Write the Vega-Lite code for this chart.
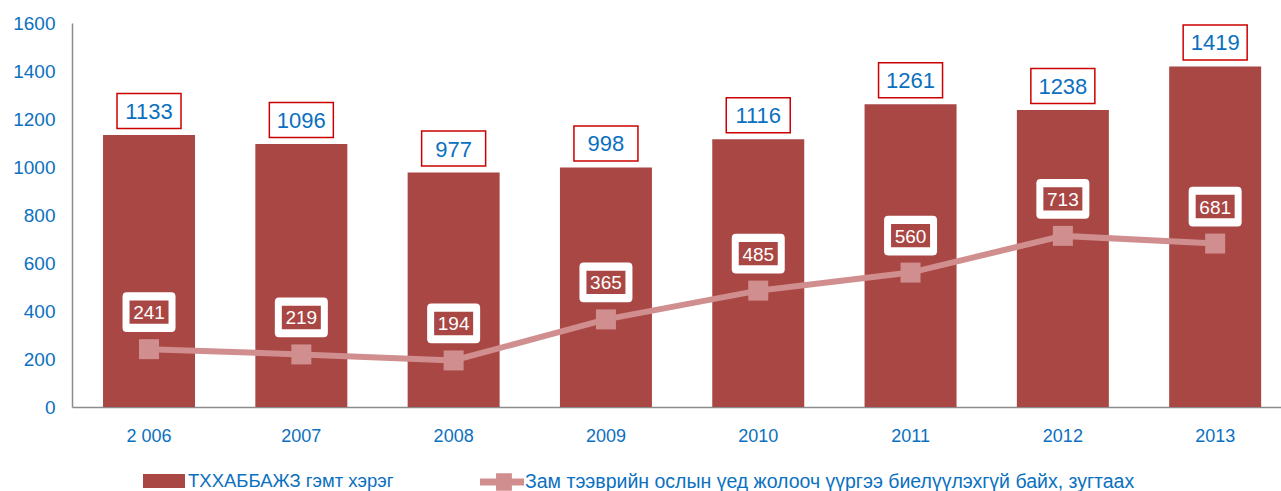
{
  "$schema": "https://vega.github.io/schema/vega-lite/v6.json",
  "width": 1209,
  "height": 384,
  "autosize": {"type": "none"},
  "padding": {"left": 72, "top": 23, "right": 0, "bottom": 84},
  "background": "white",
  "config": {"view": {"stroke": null}, "font": "Liberation Sans"},
  "data": {
    "values": [
      {"year": "2 006", "crimes": 1133, "drivers": 241},
      {"year": "2007", "crimes": 1096, "drivers": 219},
      {"year": "2008", "crimes": 977, "drivers": 194},
      {"year": "2009", "crimes": 998, "drivers": 365},
      {"year": "2010", "crimes": 1116, "drivers": 485},
      {"year": "2011", "crimes": 1261, "drivers": 560},
      {"year": "2012", "crimes": 1238, "drivers": 713},
      {"year": "2013", "crimes": 1419, "drivers": 681}
    ]
  },
  "encoding": {
    "x": {
      "field": "year",
      "type": "ordinal",
      "sort": null,
      "title": null,
      "scale": {"paddingInner": 0.396, "paddingOuter": 0.167, "align": 0.61},
      "axis": {
        "labelAngle": 0,
        "labelColor": "#0B70C0",
        "labelFontSize": 18,
        "labelPadding": 20,
        "ticks": false,
        "domainColor": "#8C8C8C",
        "domainWidth": 1.5,
        "grid": false
      }
    }
  },
  "layer": [
    {
      "mark": {"type": "bar"},
      "encoding": {
        "y": {
          "field": "crimes",
          "type": "quantitative",
          "title": null,
          "scale": {"domain": [0, 1600]},
          "axis": {
            "values": [0, 200, 400, 600, 800, 1000, 1200, 1400, 1600],
            "format": "d",
            "labelColor": "#0B70C0",
            "labelFontSize": 19,
            "labelPadding": 17,
            "ticks": false,
            "grid": false,
            "domainColor": "#8C8C8C",
            "domainWidth": 1.5
          }
        },
        "fill": {
          "datum": "ТХХАББАЖЗ гэмт хэрэг",
          "type": "nominal",
          "scale": {"range": ["#A94744"]},
          "legend": {
            "title": null,
            "orient": "none",
            "legendX": 71,
            "legendY": 437,
            "symbolType": "M-1,-0.33H1V0.33H-1Z",
            "symbolSize": 1764,
            "symbolStrokeWidth": 0,
            "labelColor": "#0B70C0",
            "labelFontSize": 18.5,
            "labelOffset": 3,
            "labelLimit": 600
          }
        }
      }
    },
    {
      "mark": {
        "type": "point",
        "shape": "M-1,-0.547H1V0.547H-1Z",
        "size": 4096,
        "filled": true,
        "fill": "white",
        "stroke": "#CC0000",
        "strokeWidth": 1.5,
        "opacity": 1,
        "yOffset": -24
      },
      "encoding": {"y": {"field": "crimes", "type": "quantitative"}}
    },
    {
      "mark": {
        "type": "text",
        "fontSize": 22,
        "color": "#0B70C0",
        "baseline": "middle",
        "align": "center",
        "dy": -23
      },
      "encoding": {
        "y": {"field": "crimes", "type": "quantitative"},
        "text": {"field": "crimes", "type": "quantitative"}
      }
    },
    {
      "mark": {"type": "line", "strokeWidth": 6},
      "encoding": {
        "y": {"field": "drivers", "type": "quantitative"},
        "stroke": {
          "datum": "Зам тээврийн ослын үед жолооч үүргээ биелүүлэхгүй байх, зугтаах",
          "type": "nominal",
          "scale": {"range": ["#D08E8E"]},
          "legend": {
            "title": null,
            "orient": "none",
            "legendX": 408,
            "legendY": 437,
            "symbolType": "M-1,-0.16H-0.27V-0.4H0.45V-0.16H1V0.16H0.45V0.4H-0.27V0.16H-1Z",
            "symbolSize": 1936,
            "symbolStrokeWidth": 0,
            "symbolFillColor": "#D08E8E",
            "labelColor": "#0B70C0",
            "labelFontSize": 19.5,
            "labelOffset": 1,
            "labelLimit": 800
          }
        }
      }
    },
    {
      "mark": {
        "type": "point",
        "shape": "square",
        "size": 400,
        "filled": true,
        "color": "#D08E8E",
        "opacity": 1
      },
      "encoding": {"y": {"field": "drivers", "type": "quantitative"}}
    },
    {
      "mark": {
        "type": "point",
        "shape": "M-0.84,-0.75H0.84Q1,-0.75 1,-0.59V0.59Q1,0.75 0.84,0.75H-0.84Q-1,0.75 -1,0.59V-0.59Q-1,-0.75 -0.84,-0.75Z",
        "size": 2809,
        "filled": true,
        "color": "white",
        "opacity": 1,
        "yOffset": -37
      },
      "encoding": {"y": {"field": "drivers", "type": "quantitative"}}
    },
    {
      "mark": {
        "type": "point",
        "shape": "M-1,-0.6H1V0.6H-1Z",
        "size": 1521,
        "filled": true,
        "color": "#A94744",
        "opacity": 1,
        "yOffset": -37
      },
      "encoding": {"y": {"field": "drivers", "type": "quantitative"}}
    },
    {
      "mark": {
        "type": "text",
        "fontSize": 19,
        "color": "white",
        "baseline": "middle",
        "align": "center",
        "dy": -36
      },
      "encoding": {
        "y": {"field": "drivers", "type": "quantitative"},
        "text": {"field": "drivers", "type": "quantitative"}
      }
    }
  ]
}
